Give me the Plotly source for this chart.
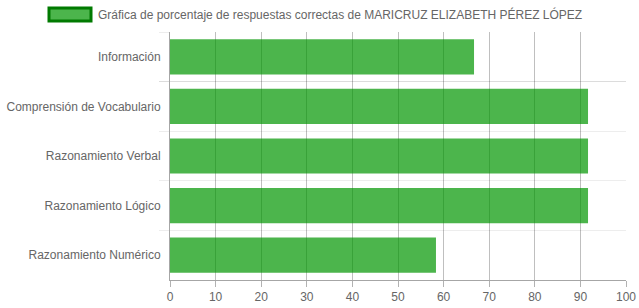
import plotly.graph_objects as go

categories = ["Información", "Comprensión de Vocabulario", "Razonamiento Verbal",
              "Razonamiento Lógico", "Razonamiento Numérico"]
values = [66.67, 91.67, 91.67, 91.67, 58.33]
x_ticks = [0, 10, 20, 30, 40, 50, 60, 70, 80, 90, 100]
legend_label = "Gráfica de porcentaje de respuestas correctas de MARICRUZ ELIZABETH PÉREZ LÓPEZ"

FONT = "Liberation Sans, Arial, Helvetica, sans-serif"
W, H = 639, 308
ML, MR, MT, MB = 170, 13, 32, 28

fig = go.Figure(go.Bar(
    x=values, y=categories, orientation="h",
    marker=dict(color="rgba(0,150,0,0.7)", line=dict(width=0)),
    showlegend=False,
    hoverinfo="x+y",
))

pw = W - ML - MR
ph = H - MT - MB
def px_to_paper_x(px):
    return (px - ML) / pw
def py_to_paper_y(py):
    return 1 - (py - MT) / ph

fig.add_shape(type="rect", xref="paper", yref="paper",
              x0=px_to_paper_x(49), x1=px_to_paper_x(91),
              y0=py_to_paper_y(21), y1=py_to_paper_y(8),
              fillcolor="rgba(0,150,0,0.7)", line=dict(color="#007a00", width=3))
fig.add_annotation(xref="paper", yref="paper",
                   x=px_to_paper_x(96), y=py_to_paper_y(14.5),
                   xanchor="left", yanchor="middle", showarrow=False,
                   text=legend_label, font=dict(family=FONT, size=12, color="#666666"))

fig.update_layout(
    width=W, height=H,
    margin=dict(l=ML, r=MR, t=MT, b=MB, pad=0, autoexpand=False),
    paper_bgcolor="white", plot_bgcolor="white",
    bargap=0.29,
    font=dict(family=FONT, size=12, color="#666666"),
    xaxis=dict(
        range=[0, 100], tickvals=x_ticks, ticktext=[str(v) for v in x_ticks],
        automargin=False,
        showgrid=True, gridcolor="rgba(0,0,0,0.25)", gridwidth=1,
        zeroline=False, showline=True, linecolor="rgba(0,0,0,0.35)", linewidth=1,
        ticks="outside", ticklen=6, tickcolor="rgba(0,0,0,0.3)",
        tickfont=dict(family=FONT, size=12, color="#666666"),
        fixedrange=True,
    ),
    yaxis=dict(
        categoryorder="array", categoryarray=categories, autorange="reversed",
        automargin=False,
        tickson="boundaries", showgrid=True, gridcolor="rgba(0,0,0,0.07)", gridwidth=1,
        showline=True, linecolor="rgba(0,0,0,0.35)", linewidth=1,
        ticks="outside", ticklen=10, tickcolor="rgba(0,0,0,0.07)",
        ticklabelstandoff=6,
        tickfont=dict(family=FONT, size=12, color="#666666"),
        fixedrange=True,
    ),
)

fig.write_html("out.html", config={"displayModeBar": False})
